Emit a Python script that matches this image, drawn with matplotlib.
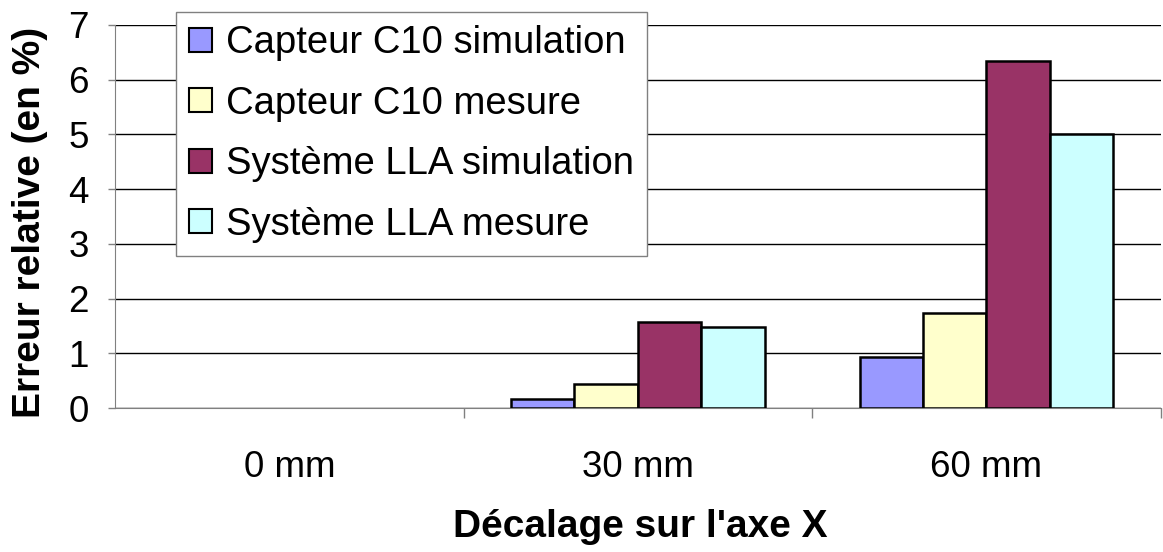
import numpy as np
import matplotlib.pyplot as plt

plt.rcParams['font.family'] = ['Liberation Sans', 'DejaVu Sans']

# =========================================================
# DATA
categories = ['0 mm', '30 mm', '60 mm']
series_names = ['Capteur C10 simulation', 'Capteur C10 mesure',
                'Système LLA simulation', 'Système LLA mesure']
c10_sim = [0.0, 0.16, 0.94]
c10_mes = [0.0, 0.43, 1.73]
lla_sim = [0.0, 1.58, 6.35]
lla_mes = [0.0, 1.48, 5.00]
colors = ['#9999FF', '#FFFFCC', '#993366', '#CCFFFF']

# =========================================================
fig = plt.figure(figsize=(11.63, 5.52), dpi=100)
ax = fig.add_axes([115/1163, 1 - 408/552, 1 - 115/1163 - 0.002, (408 - 25)/552])

x = np.arange(len(categories))
bw = 1/5.5
for i, (vals, name) in enumerate(zip([c10_sim, c10_mes, lla_sim, lla_mes], series_names)):
    # zero-height bars get no outline (nothing drawn in the original)
    lws = [1.8 if v > 0 else 0 for v in vals]
    ax.bar(x + (i - 1.5)*bw, vals, width=bw, color=colors[i], edgecolor='black',
           linewidth=lws, label=name, zorder=3)

ax.set_xlim(-0.5, 2.5)
ax.set_ylim(0, 7)
ax.set_yticks(range(8))
ax.yaxis.grid(True, color='black', linewidth=1, zorder=0)
ax.set_axisbelow(True)

ax.set_xticks(x)
ax.set_xticklabels(categories)
ax.set_xticks([0.5, 1.5, 2.5], minor=True)
ax.tick_params(axis='x', which='major', length=0, pad=30, labelsize=26.5)
ax.tick_params(axis='x', which='minor', length=7, width=1, color='#808080')
ax.tick_params(axis='y', length=5, width=1, color='#808080', labelsize=26.5, pad=14)

for s in ['top', 'right']:
    ax.spines[s].set_visible(False)
ax.spines['left'].set_color('#808080')
ax.spines['bottom'].set_color('#808080')

fig.text(640/1163, 1 - 527/552, "Décalage sur l'axe X", ha='center', va='center',
         fontsize=28, fontweight='bold')
fig.text(30/1163, 1 - 222/552, 'Erreur relative (en %)', ha='center', va='center',
         rotation=90, fontsize=28, fontweight='bold')

leg = ax.legend(loc='upper left', bbox_to_anchor=(176/1163, 1 - 12/552),
                bbox_transform=fig.transFigure, borderaxespad=0, fontsize=27.5,
                frameon=True, fancybox=False, edgecolor='#808080', framealpha=1,
                handlelength=0.6, handleheight=0.6, handletextpad=0.35,
                labelspacing=0.64, borderpad=0.35)
leg.get_frame().set_linewidth(1)
for h in leg.get_patches():
    h.set_linewidth(1.5)

fig.savefig('out.png', dpi=100)
